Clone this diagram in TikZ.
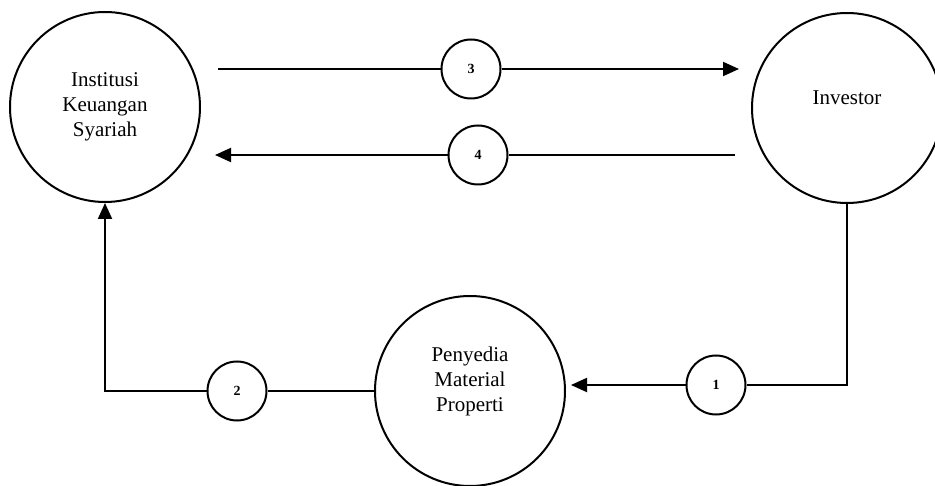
\documentclass[tikz,border=0pt]{standalone}
\usepackage{fontspec}
\setmainfont{Liberation Serif}
\usetikzlibrary{arrows.meta}
\begin{document}
\begin{tikzpicture}[x=1pt,y=-1pt,
  big/.style={circle,draw,line width=2pt,minimum size=190pt,inner sep=0pt},
  num/.style={circle,draw,fill=white,line width=2pt,minimum size=59pt,inner sep=0pt,
    font=\fontsize{14}{16}\selectfont\bfseries},
  lbl/.style={align=center,font=\fontsize{21}{25}\selectfont},
  flow/.style={line width=2pt},
  arr/.style={flow,-{Triangle[length=16pt,width=14pt]}}]
\useasboundingbox (0,0) rectangle (935,486);

% main parties
\node[big] (iks) at (105,107) {};
\node[big] (inv) at (847,108) {};
\node[big] (pmp) at (470,391) {};
\node[lbl] (iksT) at (105,107) {Institusi\\Keuangan\\Syariah};
\node[lbl] (invT) at (847,98) {Investor};
\node[lbl] (pmpT) at (470,381) {Penyedia\\Material\\Properti};

% numbered steps
\node[num] (n1) at (716,385) {1};
\node[num] (n2) at (237,391) {2};
\node[num] (n3) at (471,69) {3};
\node[num] (n4) at (478,155) {4};

% free ends of the flows
\coordinate (s3) at (218,69);
\coordinate (t3) at (739,69);
\coordinate (s4) at (735,155);
\coordinate (t4) at (215,155);
\coordinate (t1) at (571,385);

% flow 1: investor to material provider
\draw[flow] (inv.south) |- (n1.east);
\draw[arr] (n1.west) -- (t1);
% flow 2: material provider to the institution
\draw[flow] (pmp.west) -- (n2.east);
\draw[arr] (n2.west) -| (iks.south);
% flow 3: institution to investor
\draw[flow] (s3) -- (n3.west);
\draw[arr] (n3.east) -- (t3);
% flow 4: investor to institution
\draw[flow] (s4) -- (n4.east);
\draw[arr] (n4.west) -- (t4);
\end{tikzpicture}
\end{document}
